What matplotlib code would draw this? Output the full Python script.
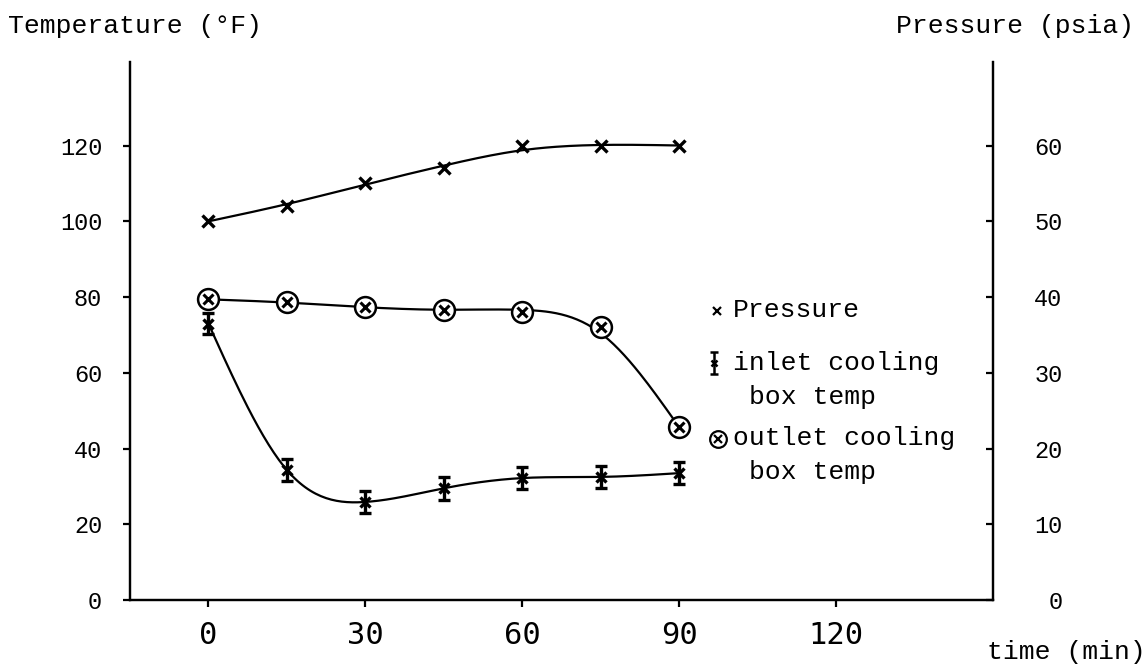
import numpy as np
import matplotlib
matplotlib.use("Agg")
from matplotlib import pyplot as plt
from matplotlib import font_manager

# time (min)
time_min = [0, 15, 30, 45, 60, 75, 90]
# pressure (psia), right axis
pressure = [50, 52, 55, 57, 60, 60, 60]
# inlet cooling box temperature (F) and its scatter
inlet_temp = [73, 34.3, 25.9, 29.5, 32.2, 32.5, 33.5]
inlet_err = [2.7, 3, 3, 3, 2.8, 3, 3]
# outlet cooling box temperature (F)
outlet_temp = [79.4, 78.6, 77.3, 76.5, 76.0, 72.0, 45.6]

x_ticks = [0, 30, 60, 90, 120]
temp_ticks = [0, 20, 40, 60, 80, 100, 120]
pressure_ticks = [0, 10, 20, 30, 40, 50, 60]

MONO = 'Liberation Mono'
names = {f.name for f in font_manager.fontManager.ttflist}
NARROW = 'Liberation Sans Narrow' if 'Liberation Sans Narrow' in names else 'DejaVu Sans Mono'


def smooth(x, y, p, step=0.5):
    # penalised least squares on a fine grid: a hand-drawn looking fit curve
    x = np.asarray(x, float)
    y = np.asarray(y, float)
    xs = np.arange(x[0], x[-1] + step / 2, step)
    n = len(xs)
    idx = np.round((x - x[0]) / step).astype(int)
    w = np.ones(len(x))
    w[0] = w[-1] = 20
    W = np.zeros(n)
    Wy = np.zeros(n)
    W[idx] = w
    Wy[idx] = w * y
    D = np.diff(np.eye(n), 2, axis=0)
    lam = p / step ** 3
    z = np.linalg.solve(np.diag(W) + lam * D.T @ D, Wy)
    return xs, z


fig = plt.figure(figsize=(11.46, 6.68), dpi=100)
ax = fig.add_axes([0.1134, 0.1018, 0.7531, 0.805])
ax2 = ax.twinx()

ax.set_xlim(-15, 150)
ax.set_ylim(0, 142)
ax2.set_ylim(0, 71)

for a in (ax, ax2):
    a.spines['top'].set_visible(False)
    for s in a.spines.values():
        s.set_linewidth(1.6)

# pressure curve
xs, ys = smooth(time_min, pressure, 800)
ax2.plot(xs, ys, color='black', lw=1.6)
ax2.plot(time_min, pressure, 'x', color='black', ms=9, mew=2.4)

# outlet temperature
xs, ys = smooth(time_min, outlet_temp, 100)
ax.plot(xs, ys, color='black', lw=1.6)
ax.plot(time_min, outlet_temp, 'o', mfc='white', mec='black', ms=15, mew=1.8)
ax.plot(time_min, outlet_temp, 'x', color='black', ms=7, mew=2.2)

# inlet temperature with scatter bars
xs, ys = smooth(time_min, inlet_temp, 1)
ax.plot(xs, ys, color='black', lw=1.6)
ax.errorbar(time_min, inlet_temp, yerr=inlet_err, fmt='x', color='black',
            ms=7, mew=2.4, elinewidth=2.4, capsize=4, capthick=2)

ax.set_xticks(x_ticks)
ax.set_xticklabels([str(v) for v in x_ticks], fontfamily=NARROW, fontsize=22)
ax.set_yticks(temp_ticks)
ax.set_yticklabels([str(v) for v in temp_ticks], fontfamily=MONO, fontsize=17)
ax.tick_params(axis='x', direction='out', length=5, width=1.6, pad=10)
ax.tick_params(axis='y', direction='out', length=5, width=1.6, pad=15)

ax2.set_yticks(pressure_ticks)
ax2.set_yticklabels([str(v) for v in pressure_ticks], fontfamily=MONO,
                    fontsize=17, ha='right')
ax2.tick_params(axis='y', direction='in', length=5, width=1.6, pad=50)

# axis titles
fig.text(8 / 1146, 1 - 26 / 668, 'Temperature (°F)', fontfamily=MONO,
         fontsize=19, va='center', ha='left')
fig.text(1134 / 1146, 1 - 26 / 668, 'Pressure (psia)', fontfamily=MONO,
         fontsize=19, va='center', ha='right')
fig.text(1146 / 1146, 1 - 652 / 668, 'time (min)', fontfamily=MONO,
         fontsize=19, va='center', ha='right')

# key at the right of the curves
tx = 733 / 1146
fx = fig.transFigure
ax.plot([717 / 1146], [1 - 311 / 668], transform=fx, marker='x',
        color='black', ms=6, mew=1.6, ls='none')
fig.text(tx, 1 - 310 / 668, 'Pressure', fontfamily=MONO, fontsize=19,
         va='center')
ax.errorbar([714 / 1146], [1 - 363 / 668], yerr=[0.017], transform=fx,
            fmt='x', color='black', ms=5, mew=1.8, elinewidth=1.8, capsize=3,
            capthick=1.6)
fig.text(tx, 1 - 363 / 668, 'inlet cooling', fontfamily=MONO,
         fontsize=19, va='center')
fig.text(749 / 1146, 1 - 397 / 668, 'box temp', fontfamily=MONO, fontsize=19,
         va='center')
ax.plot([718 / 1146], [1 - 439 / 668], transform=fx, marker='o',
        mfc='none', mec='black', ms=12, mew=1.6, ls='none')
ax.plot([718 / 1146], [1 - 439 / 668], transform=fx, marker='x',
        color='black', ms=6, mew=1.6, ls='none')
fig.text(tx, 1 - 438 / 668, 'outlet cooling', fontfamily=MONO,
         fontsize=19, va='center')
fig.text(749 / 1146, 1 - 472 / 668, 'box temp', fontfamily=MONO, fontsize=19,
         va='center')

fig.savefig('out.png', dpi=100)
